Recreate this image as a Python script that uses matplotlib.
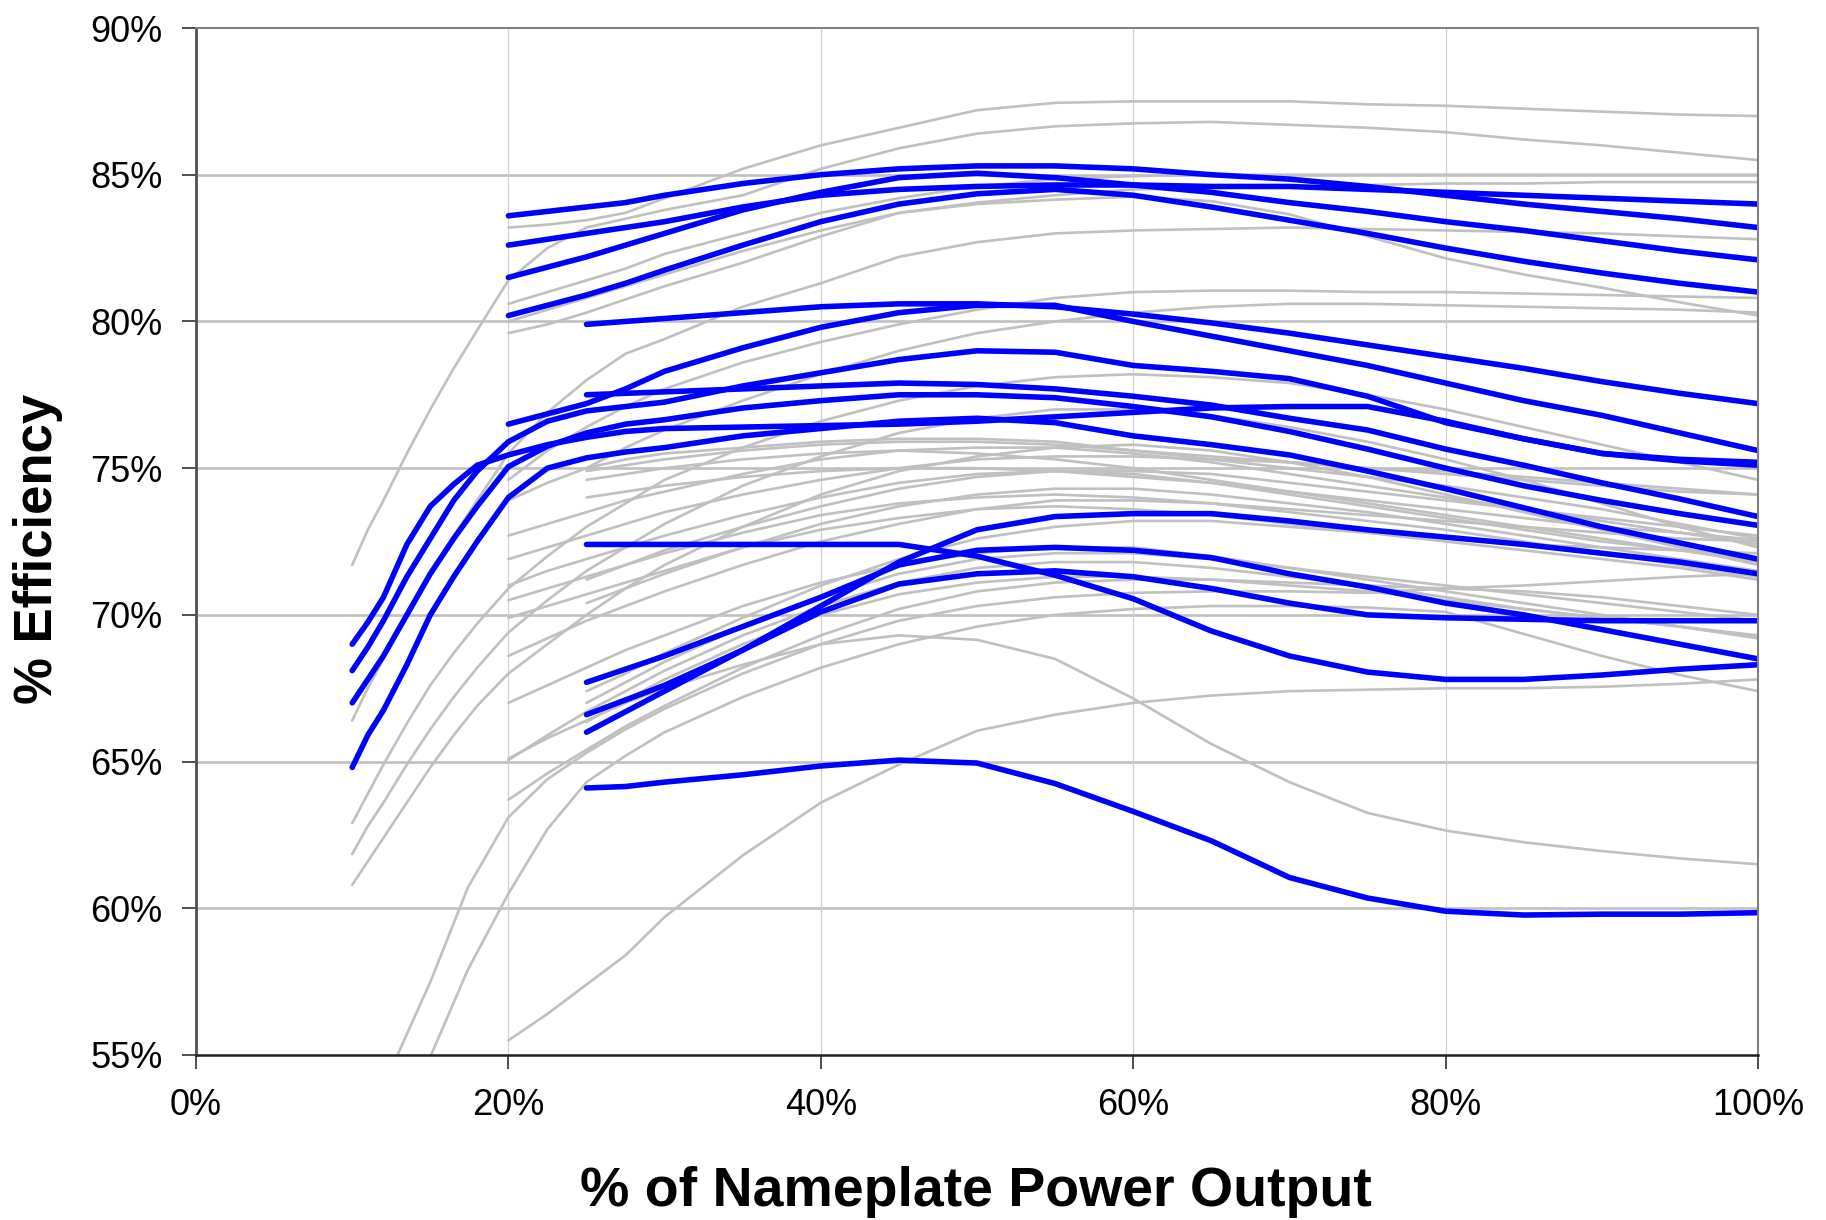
import matplotlib
matplotlib.use("Agg")
import matplotlib.pyplot as plt

plt.rcParams['font.family'] = ['Liberation Sans', 'DejaVu Sans']

# ---------------- x grids (percent of nameplate power) ----------------
X10 = [10, 11, 12, 13.5, 15, 16.5, 18, 20, 22.5, 25, 27.5, 30, 35, 40, 45, 50,
       55, 60, 65, 70, 75, 80, 85, 90, 95, 100]
X20 = [20, 22.5, 25, 27.5, 30, 35, 40, 45, 50, 55, 60, 65, 70, 75, 80, 85, 90, 95, 100]
X25 = [25, 27.5, 30, 35, 40, 45, 50, 55, 60, 65, 70, 75, 80, 85, 90, 95, 100]
X_STEEP_A = [12.9, 15.05, 17.4, 20, 22.5, 25, 27.5, 30, 35, 40, 45, 50, 55, 60,
             65, 70, 75, 80, 85, 90, 95, 100]
X_STEEP_B = [15.05, 17.4, 20, 22.5, 25, 27.5, 30, 35, 40, 45, 50, 55, 60, 65,
             70, 75, 80, 85, 90, 95, 100]

# ---------------- highlighted (blue) inverters, % efficiency ----------------
blue_start10 = [
    [69.0, 69.75, 70.6, 72.4, 73.7, 74.45, 75.1, 75.45, 75.8, 76.05, 76.25, 76.35,
     76.4, 76.45, 76.5, 76.6, 76.75, 76.9, 77.05, 77.1, 77.1, 76.6, 76.0, 75.5, 75.25, 75.1],
    [68.1, 68.9, 69.8, 71.3, 72.6, 73.9, 74.9, 75.9, 76.6, 76.95, 77.1, 77.25,
     77.8, 78.25, 78.7, 79.0, 78.95, 78.5, 78.3, 78.05, 77.45, 76.55, 76.0, 75.5, 75.3, 75.2],
    [67.0, 67.8, 68.6, 70.0, 71.4, 72.6, 73.7, 75.05, 75.75, 76.2, 76.5, 76.65,
     77.05, 77.3, 77.5, 77.5, 77.4, 77.1, 76.75, 76.25, 75.65, 75.0, 74.4, 73.9, 73.45, 73.05],
    [64.8, 65.9, 66.75, 68.3, 70.0, 71.3, 72.5, 74.0, 75.0, 75.35, 75.55, 75.7,
     76.1, 76.35, 76.6, 76.7, 76.55, 76.1, 75.8, 75.45, 74.9, 74.3, 73.65, 73.0, 72.45, 71.9],
]
blue_start20 = [
    [83.6, 83.75, 83.9, 84.05, 84.3, 84.7, 85.0, 85.2, 85.3, 85.3, 85.2, 85.0, 84.85, 84.6, 84.3, 84.0, 83.75, 83.5, 83.2],
    [82.6, 82.8, 83.0, 83.2, 83.4, 83.9, 84.3, 84.5, 84.6, 84.65, 84.65, 84.6, 84.6, 84.5, 84.4, 84.3, 84.2, 84.1, 84.0],
    [81.5, 81.85, 82.2, 82.6, 83.0, 83.8, 84.4, 84.9, 85.05, 84.9, 84.65, 84.4, 84.05, 83.75, 83.4, 83.1, 82.75, 82.4, 82.1],
    [80.2, 80.55, 80.9, 81.3, 81.75, 82.6, 83.4, 84.0, 84.35, 84.5, 84.3, 83.9, 83.45, 83.0, 82.5, 82.05, 81.65, 81.3, 81.0],
    [76.5, 76.85, 77.2, 77.7, 78.3, 79.1, 79.8, 80.3, 80.55, 80.55, 80.0, 79.5, 79.0, 78.5, 77.9, 77.3, 76.8, 76.2, 75.6],
]
blue_start25 = [
    [79.9, 80.0, 80.1, 80.3, 80.5, 80.6, 80.6, 80.5, 80.25, 79.95, 79.6, 79.2, 78.8, 78.4, 77.95, 77.55, 77.2],
    [77.5, 77.55, 77.6, 77.7, 77.8, 77.9, 77.85, 77.7, 77.45, 77.15, 76.7, 76.3, 75.65, 75.1, 74.5, 73.95, 73.35],
    [72.4, 72.4, 72.4, 72.4, 72.4, 72.4, 72.0, 71.35, 70.55, 69.45, 68.6, 68.05, 67.8, 67.8, 67.95, 68.15, 68.3],
    [66.0, 66.7, 67.4, 68.8, 70.3, 71.8, 72.9, 73.35, 73.45, 73.45, 73.2, 72.9, 72.65, 72.4, 72.1, 71.8, 71.4],
    [67.7, 68.15, 68.6, 69.6, 70.6, 71.7, 72.2, 72.3, 72.2, 71.95, 71.4, 70.95, 70.4, 70.0, 69.5, 69.0, 68.5],
    [66.6, 67.1, 67.6, 68.8, 70.1, 71.05, 71.4, 71.5, 71.3, 70.9, 70.4, 70.0, 69.9, 69.85, 69.8, 69.8, 69.8],
    [64.1, 64.15, 64.3, 64.55, 64.85, 65.05, 64.95, 64.25, 63.3, 62.3, 61.05, 60.35, 59.9, 59.77, 59.8, 59.8, 59.85],
]

# ---------------- other (grey) inverters, % efficiency ----------------
grey_start10 = [
    [71.7, 72.9, 73.9, 75.5, 77.0, 78.4, 79.7, 81.4, 82.5, 83.2, 83.5, 83.8,
     84.3, 85.2, 85.9, 86.4, 86.65, 86.75, 86.8, 86.7, 86.6, 86.45, 86.2, 86.0, 85.75, 85.5],
    [66.4, 67.5, 68.5, 70.0, 71.4, 72.7, 73.9, 75.5, 76.9, 78.0, 78.9, 79.4,
     80.5, 81.3, 82.2, 82.7, 83.0, 83.1, 83.15, 83.2, 83.15, 83.1, 83.05, 83.0, 82.9, 82.8],
    [62.9, 63.9, 64.9, 66.3, 67.6, 68.7, 69.7, 70.9, 72.0, 73.0, 73.8, 74.6,
     75.7, 76.6, 77.3, 77.8, 78.1, 78.2, 78.1, 77.9, 77.5, 77.0, 76.4, 75.8, 75.2, 74.6],
    [61.85, 62.8, 63.6, 64.9, 66.1, 67.2, 68.2, 69.4, 70.5, 71.5, 72.3, 73.1,
     74.4, 75.4, 76.2, 76.7, 77.0, 77.0, 76.8, 76.4, 75.9, 75.3, 74.6, 73.8, 73.0, 72.3],
    [60.8, 61.6, 62.4, 63.6, 64.8, 65.9, 66.9, 68.0, 69.0, 70.0, 70.9, 71.7,
     73.0, 74.1, 74.9, 75.4, 75.7, 75.8, 75.6, 75.2, 74.7, 74.1, 73.5, 72.9, 72.3, 71.7],
]
grey_start20 = [
    [83.2, 83.3, 83.45, 83.7, 84.2, 85.2, 86.0, 86.6, 87.2, 87.45, 87.5, 87.5, 87.5, 87.4, 87.35, 87.25, 87.15, 87.05, 87.0],
    [80.6, 81.0, 81.4, 81.8, 82.3, 83.0, 83.7, 84.2, 84.6, 84.85, 84.95, 85.0, 85.0, 85.0, 85.0, 85.0, 85.0, 85.0, 85.0],
    [80.0, 80.4, 80.8, 81.2, 81.6, 82.4, 83.1, 83.7, 84.05, 84.3, 84.5, 84.55, 84.6, 84.65, 84.7, 84.7, 84.75, 84.75, 84.75],
    [79.6, 79.9, 80.3, 80.75, 81.2, 82.0, 82.9, 83.7, 84.0, 84.15, 84.25, 84.1, 83.65, 82.9, 82.15, 81.6, 81.15, 80.65, 80.2],
    [74.6, 75.6, 76.4, 77.1, 77.7, 78.6, 79.3, 79.9, 80.4, 80.8, 81.0, 81.05, 81.05, 81.0, 81.0, 80.95, 80.9, 80.85, 80.8],
    [73.9, 74.5, 75.0, 75.3, 75.5, 75.7, 75.9, 76.0, 76.0, 75.9, 75.6, 75.3, 75.0, 74.7, 74.4, 74.0, 73.6, 73.1, 72.6],
    [72.7, 73.1, 73.5, 73.9, 74.2, 74.8, 75.3, 75.6, 75.7, 75.7, 75.5, 75.2, 74.8, 74.4, 74.0, 73.6, 73.2, 72.8, 72.4],
    [71.9, 72.3, 72.7, 73.1, 73.5, 74.1, 74.6, 75.0, 75.3, 75.4, 75.4, 75.3, 75.2, 75.0, 74.9, 74.7, 74.5, 74.3, 74.1],
    [71.0, 71.5, 71.9, 72.3, 72.7, 73.4, 74.0, 74.5, 74.8, 74.9, 74.8, 74.5, 74.1, 73.7, 73.3, 72.9, 72.5, 72.2, 71.9],
    [70.5, 70.9, 71.3, 71.7, 72.1, 72.8, 73.4, 73.8, 74.0, 74.1, 74.0, 73.8, 73.5, 73.2, 72.9, 72.5, 72.1, 71.7, 71.3],
    [69.9, 70.3, 70.7, 71.1, 71.5, 72.3, 72.9, 73.3, 73.6, 73.7, 73.6, 73.4, 73.1, 72.8, 72.5, 72.2, 71.9, 71.6, 71.2],
    [68.6, 69.2, 69.8, 70.3, 70.8, 71.7, 72.5, 73.1, 73.6, 73.9, 73.9, 73.8, 73.6, 73.4, 73.2, 73.0, 72.8, 72.6, 72.5],
    [67.0, 67.6, 68.2, 68.8, 69.3, 70.3, 71.1, 71.7, 72.1, 72.3, 72.3, 72.0, 71.6, 71.2, 70.8, 70.4, 70.0, 69.6, 69.2],
    [65.05, 65.9, 66.7, 67.4, 68.1, 69.3, 70.3, 71.1, 71.6, 71.8, 71.8, 71.6, 71.3, 71.0, 70.6, 70.2, 69.9, 69.6, 69.3],
    [63.7, 64.6, 65.4, 66.2, 66.9, 68.2, 69.3, 70.2, 70.8, 71.1, 71.2, 71.2, 71.1, 71.0, 70.9, 70.8, 70.6, 70.3, 70.0],
    [65.1, 65.8, 66.4, 67.0, 67.5, 68.3, 69.0, 69.3, 69.15, 68.5, 67.15, 65.6, 64.3, 63.25, 62.65, 62.25, 61.95, 61.7, 61.5],
    [55.5, 56.4, 57.4, 58.4, 59.7, 61.8, 63.6, 64.9, 66.05, 66.6, 67.0, 67.25, 67.4, 67.45, 67.5, 67.5, 67.55, 67.65, 67.8],
]
grey_start25 = [
    [75.0, 75.7, 76.3, 77.3, 78.2, 79.0, 79.6, 80.0, 80.3, 80.5, 80.6, 80.6, 80.55, 80.5, 80.45, 80.4, 80.3],
    [74.9, 75.1, 75.3, 75.6, 75.8, 75.9, 75.9, 75.8, 75.6, 75.4, 75.2, 75.0, 74.8, 74.6, 74.4, 74.2, 74.1],
    [74.6, 74.8, 75.0, 75.3, 75.5, 75.6, 75.5, 75.3, 75.0, 74.6, 74.2, 73.8, 73.4, 73.0, 72.6, 72.2, 71.8],
    [74.0, 74.2, 74.4, 74.7, 74.9, 75.0, 75.0, 74.9, 74.7, 74.5, 74.2, 73.9, 73.6, 73.3, 73.0, 72.8, 72.55],
    [71.2, 71.7, 72.2, 73.0, 73.7, 74.3, 74.7, 74.9, 74.9, 74.8, 74.5, 74.2, 73.9, 73.6, 73.3, 73.0, 72.7],
    [70.4, 70.9, 71.4, 72.3, 73.1, 73.7, 74.1, 74.3, 74.3, 74.1, 73.8, 73.5, 73.1, 72.7, 72.3, 71.9, 71.5],
    [67.4, 68.0, 68.7, 69.9, 71.0, 71.9, 72.6, 73.0, 73.2, 73.2, 73.0, 72.8, 72.6, 72.4, 72.3, 72.2, 72.1],
    [67.0, 67.7, 68.4, 69.6, 70.6, 71.4, 71.9, 72.1, 72.1, 71.9, 71.6, 71.3, 71.0, 70.7, 70.4, 70.1, 69.8],
    [66.35, 67.1, 67.8, 69.0, 70.0, 70.7, 71.1, 71.3, 71.3, 71.2, 71.0, 70.8, 70.5, 70.2, 69.9, 69.6, 69.25],
]
grey_steep_a = [55.0, 57.55, 60.7, 63.1, 64.4, 65.3, 66.1, 66.8, 68.0, 69.0, 69.8, 70.3,
                70.6, 70.75, 70.8, 70.8, 70.75, 70.9, 71.0, 71.15, 71.3, 71.4]
grey_steep_b = [55.0, 57.9, 60.5, 62.7, 64.3, 65.2, 66.0, 67.2, 68.2, 69.0, 69.6, 70.0,
                70.2, 70.3, 70.3, 70.25, 70.1, 69.35, 68.6, 67.95, 67.4]

X_TICKS = [0, 20, 40, 60, 80, 100]
Y_TICKS = [55, 60, 65, 70, 75, 80, 85, 90]
X_LABEL = "% of Nameplate Power Output"
Y_LABEL = "% Efficiency"

# ---------------- drawing ----------------
W, H = 1826, 1220
fig = plt.figure(figsize=(W / 100, H / 100), dpi=100)
fig.patch.set_facecolor('white')
ax = fig.add_axes([196 / W, 1 - 1055 / H, (1758 - 196) / W, (1055 - 28) / H])

GREY = '#C0C0C0'
BLUE = '#0000FF'
gkw = dict(color=GREY, lw=1.9, solid_capstyle='round', solid_joinstyle='round', zorder=2)
bkw = dict(color=BLUE, lw=4.0, solid_capstyle='round', solid_joinstyle='round', zorder=3)

for ys in grey_start10:
    ax.plot(X10, ys, **gkw)
for ys in grey_start20:
    ax.plot(X20, ys, **gkw)
for ys in grey_start25:
    ax.plot(X25, ys, **gkw)
ax.plot(X_STEEP_A, grey_steep_a, **gkw)
ax.plot(X_STEEP_B, grey_steep_b, **gkw)

for ys in blue_start10:
    ax.plot(X10, ys, **bkw)
for ys in blue_start20:
    ax.plot(X20, ys, **bkw)
for ys in blue_start25:
    ax.plot(X25, ys, **bkw)

ax.set_xlim(0, 100)
ax.set_ylim(55, 90)
ax.set_xticks(X_TICKS)
ax.set_yticks(Y_TICKS)
ax.set_xticklabels([f"{v}%" for v in X_TICKS])
ax.set_yticklabels([f"{v}%" for v in Y_TICKS])

for y in Y_TICKS[1:-1]:
    ax.axhline(y, color=GREY, lw=1.9, zorder=1)
for x in X_TICKS[1:-1]:
    ax.axvline(x, color='#D0D0D0', lw=0.9, zorder=1)

ax.tick_params(axis='both', direction='out', length=10, width=1.2,
               labelsize=26, color='#303030', pad=14)

for s in ('top', 'right'):
    ax.spines[s].set_color('#808080')
    ax.spines[s].set_linewidth(1.5)
ax.spines['left'].set_color('#505050')
ax.spines['left'].set_linewidth(2.0)
ax.spines['bottom'].set_color('#202020')
ax.spines['bottom'].set_linewidth(1.8)
for s in ax.spines.values():
    s.set_zorder(4)

fig.text(38 / W, 1 - 549 / H, Y_LABEL, rotation=90, ha='center', va='center',
         fontsize=38, fontweight='bold')
fig.text(976 / W, 1 - 1192 / H, X_LABEL, ha='center', va='center',
         fontsize=40, fontweight='bold')

fig.savefig('out.png', dpi=100, facecolor='white')
